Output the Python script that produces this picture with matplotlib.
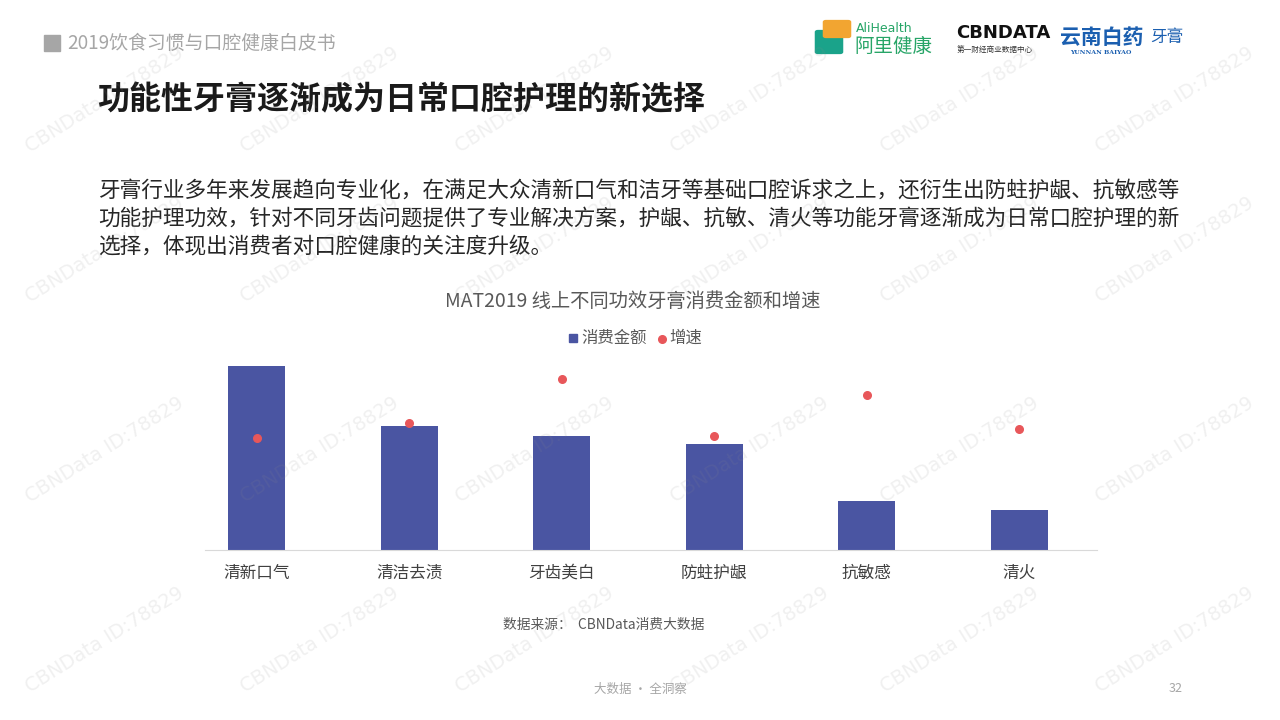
import matplotlib
matplotlib.use("Agg")
import matplotlib.pyplot as plt
from matplotlib.patches import Rectangle, FancyBboxPatch
from matplotlib.lines import Line2D
from matplotlib.transforms import blended_transform_factory

plt.rcParams['font.family'] = ['Noto Sans CJK SC', 'DejaVu Sans']

categories = ['清新口气', '清洁去渍', '牙齿美白', '防蛀护龈', '抗敏感', '清火']
spend = [184, 124, 114, 106, 49, 40]          # relative consumption amount
growth = [112, 127, 171, 114, 155, 121]       # relative growth rate (hidden axis)

header = '2019饮食习惯与口腔健康白皮书'
title = '功能性牙膏逐渐成为日常口腔护理的新选择'
para = ['牙膏行业多年来发展趋向专业化，在满足大众清新口气和洁牙等基础口腔诉求之上，还衍生出防蛀护龈、抗敏感等',
        '功能护理功效，针对不同牙齿问题提供了专业解决方案，护龈、抗敏、清火等功能牙膏逐渐成为日常口腔护理的新',
        '选择，体现出消费者对口腔健康的关注度升级。']
chart_title = 'MAT2019 线上不同功效牙膏消费金额和增速'
legend_labels = ['消费金额', '增速']
source = '数据来源：  CBNData消费大数据'
footer = '大数据 · 全洞察'
page = '32'

BAR = '#4a55a2'
DOT = '#e8575a'

W, H = 1280, 720
fig = plt.figure(figsize=(12.8, 7.2), dpi=100)
fig.patch.set_facecolor('white')

def fx(px): return px / W
def fy(py): return 1 - py / H

# header
fig.patches.append(Rectangle((fx(44), fy(51)), fx(16), 16 / H, transform=fig.transFigure,
                             color='#a6a6a6', zorder=2))
fig.text(fx(67), fy(43), header, fontsize=13.6, color='#a6a6a6', va='center', ha='left')

# logos (approximate)
fig.patches.append(FancyBboxPatch((fx(818), fy(52)), fx(22), 20 / H, boxstyle='round,pad=0.002',
                                  transform=fig.transFigure, color='#1aa38a', zorder=2))
fig.patches.append(FancyBboxPatch((fx(826), fy(36)), fx(22), 14 / H, boxstyle='round,pad=0.002',
                                  transform=fig.transFigure, color='#f2a531', zorder=2))
fig.text(fx(856), fy(29), 'AliHealth', fontsize=9, color='#27a567', va='center', ha='left',
         family='DejaVu Sans')
fig.text(fx(854), fy(46), '阿里健康', fontsize=14, color='#27a567', va='center', ha='left')
fig.text(fx(956), fy(33), 'CBNDATA', fontsize=13, color='#111111', va='center', ha='left',
         fontweight='bold', family='DejaVu Sans')
fig.text(fx(957), fy(50), '第一财经商业数据中心', fontsize=5.5, color='#333333', va='center', ha='left')
fig.text(fx(1060), fy(37), '云南白药', fontsize=15, color='#1b5fb0', va='center', ha='left',
         fontweight='bold', style='italic')
fig.text(fx(1150), fy(37), '牙膏', fontsize=12, color='#1b5fb0', va='center', ha='left', style='italic')
fig.text(fx(1070), fy(53), 'YUNNAN BAIYAO', fontsize=4.5, color='#1b5fb0', va='center', ha='left',
         family='DejaVu Serif', fontweight='bold')

# title
fig.text(fx(97), fy(100), title, fontsize=23, fontweight='bold', color='#1a1a1a', va='center', ha='left')

# paragraph
for i, line in enumerate(para):
    fig.text(fx(98), fy(191 + i * 28), line, fontsize=15.6, color='#262626', va='center', ha='left')

# chart title
fig.text(fx(633), fy(301), chart_title, fontsize=13.9, color='#595959', va='center', ha='center')

# axes
ax = fig.add_axes([fx(205), fy(550), fx(1097 - 205), 200 / H])
x = list(range(len(categories)))
ax.bar(x, spend, width=0.375, color=BAR, zorder=2)
ax.set_xlim(-0.34, 5.51)
ax.set_ylim(0, 200)
ax2 = ax.twinx()
ax2.scatter(x, growth, s=30, color=DOT, zorder=3)
ax2.set_ylim(0, 200)
ax2.set_xlim(-0.34, 5.51)
for a in (ax, ax2):
    for s in ['top', 'right', 'left']:
        a.spines[s].set_visible(False)
    a.patch.set_alpha(0)
ax.spines['bottom'].set_color('#d9d9d9')
ax2.spines['bottom'].set_visible(False)
ax.set_yticks([])
ax2.set_yticks([])
ax.set_xticks(x)
ax.set_xticklabels([])
ax.tick_params(axis='x', length=0)
trans = blended_transform_factory(ax.transData, fig.transFigure)
for xi, lab in zip(x, categories):
    ax.text(xi, fy(578), lab, transform=trans, fontsize=12, color='#404040',
            ha='center', va='baseline')

# legend
fig.patches.append(Rectangle((fx(569), fy(342)), fx(8), 8 / H, transform=fig.transFigure,
                             color=BAR, zorder=2))
fig.text(fx(581), fy(338), legend_labels[0], fontsize=11.8, color='#595959', va='center', ha='left')
fig.add_artist(Line2D([fx(662)], [fy(339)], marker='o', markersize=5.5, color=DOT,
                      linestyle='none', transform=fig.transFigure))
fig.text(fx(669), fy(338), legend_labels[1], fontsize=11.8, color='#595959', va='center', ha='left')

# source and footer
fig.text(fx(503), fy(625), source, fontsize=9.9, color='#595959', va='center', ha='left')
fig.text(fx(640), fy(689), footer, fontsize=9, color='#a6a6a6', va='center', ha='center')
fig.text(fx(1176), fy(688), page, fontsize=9, color='#a6a6a6', va='center', ha='center')

# watermarks (faint overlay)
for wy in [100, 250, 450, 640]:
    for wx in [105, 320, 535, 750, 960, 1175]:
        fig.text(fx(wx), fy(wy), 'CBNData ID:78829', rotation=32, fontsize=14,
                 color='#8c8c8c', alpha=0.13, ha='center', va='center',
                 family='DejaVu Sans', zorder=5)

fig.savefig('out.png', dpi=100)
